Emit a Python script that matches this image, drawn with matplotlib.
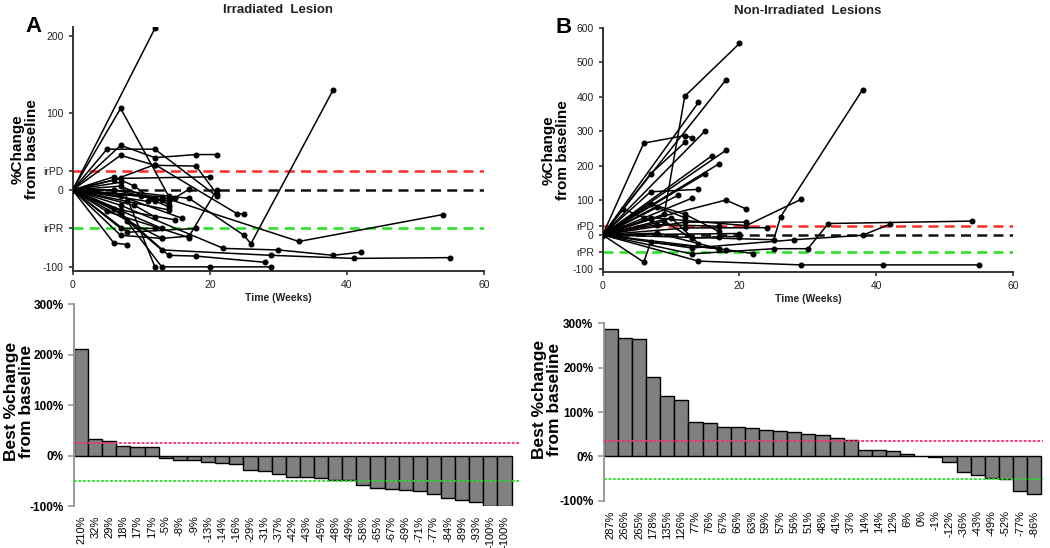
import numpy as np
import matplotlib.pyplot as plt

plt.rcParams['font.family'] = ['Liberation Sans', 'DejaVu Sans']

# spaghetti data: weeks and % change per patient
irr_weeks = [
    [0, 12], [0, 7, 14], [0, 5, 12, 21], [0, 7, 12, 18, 21], [0, 7, 12, 18, 21],
    [0, 7, 20], [0, 6, 17, 25, 26, 38], [0, 6, 12, 24, 25], [0, 13, 33, 54],
    [0, 7, 22, 30, 38, 42], [0, 7, 14, 18, 28], [0, 6, 13, 29, 41, 55], [0, 7, 12],
    [0, 7, 13, 20, 29], [0, 6, 8], [0, 7, 13], [0, 7, 12], [0, 5, 17], [0, 7, 15],
    [0, 8, 14], [0, 11, 15], [0, 6, 14, 17], [0, 8, 13, 17, 21], [0, 6, 9, 12],
    [0, 7, 14], [0, 10, 13], [0, 7, 16], [0, 12, 14], [0, 9, 12], [0, 13], [0, 8, 18],
]
irr_change = [
    [0, 210], [0, 106, -8], [0, 53, 53, -8], [0, 58, 42, 46, 46], [0, 45, 32, 31, -5],
    [0, 15, 17], [0, 0, -11, -59, -70, 130], [0, 13, 33, -31, -31], [0, -9, -67, -32],
    [0, -20, -76, -78, -85, -81], [0, -30, -85, -86, -94], [0, -25, -78, -85, -89, -88],
    [0, 10, -100], [0, -30, -100, -100, -100], [0, -69, -71], [0, -59, -63], [0, -50, -50],
    [0, -28, -62], [0, -26, -39], [0, -15, -26], [0, -15, -10], [0, 0, -15, 1],
    [0, -40, -63, -60, 0], [0, 17, 5, -15], [0, 5, -22], [0, -8, -13], [0, -8, -37],
    [0, -10, -19], [0, -20, -35], [0, -50], [0, -55, -50],
]
non_weeks = [
    [0, 9, 12, 20], [0, 18], [0, 14], [0, 15], [0, 6, 12, 13], [0, 7, 12], [0, 18],
    [0, 16], [0, 17], [0, 15], [0, 7, 14], [0, 13], [0, 11], [0, 7, 18, 21],
    [0, 7, 21, 29], [0, 25, 26, 38], [0, 13, 25, 30, 33, 54], [0, 13, 28, 38, 42],
    [0, 14, 29, 41, 55], [0, 6, 7, 17], [0, 12, 24], [0, 12, 21], [0, 20], [0, 18, 22],
    [0, 8, 17], [0, 8, 17], [0, 3, 6], [0, 7, 12, 17], [0, 9, 13, 17, 20], [0, 8, 12],
    [0, 10, 14],
]
non_change = [
    [0, 60, 402, 555], [0, 449], [0, 384], [0, 302], [0, 266, 288, 282], [0, 177, 268],
    [0, 245], [0, 230], [0, 206], [0, 177], [0, 125, 132], [0, 106], [0, 115],
    [0, 45, 101, 75], [0, 50, 27, 103], [0, -14, 52, 421], [0, -55, -40, -40, 33, 40],
    [0, -38, -14, -1, 31], [0, -76, -87, -87, -87], [0, -79, -22, -40], [0, 20, 21],
    [0, 37, 37], [0, 4], [0, -43, -54], [0, 5, -40], [0, 30, 25], [0, 75, 50],
    [0, 90, 60, 10], [0, 40, -10, -5, -5], [0, 80, 50], [0, 50, -25],
]

# waterfall data (best % change)
irr_best = [210, 32, 29, 18, 17, 17, -5, -8, -9, -13, -14, -16, -29, -31, -37, -42,
            -43, -45, -48, -49, -58, -65, -67, -69, -71, -77, -84, -89, -93, -100, -100]
non_best = [287, 266, 265, 178, 135, 126, 77, 76, 67, 66, 63, 59, 57, 56, 51, 48,
            41, 37, 14, 14, 12, 6, 0, -1, -12, -36, -43, -49, -52, -77, -86]

irr_ticks = [200, 100, 25, 0, -50, -100]
irr_ticklabels = ['200', '100', 'irPD', '0', 'irPR', '-100']
non_ticks = [600, 500, 400, 300, 200, 100, 25, 0, -50, -100]
non_ticklabels = ['600', '500', '400', '300', '200', '100', 'rPD', '0', 'rPR', '-100']
pd_line = 25
pr_line = -50
irr_bar_pd = 25
non_bar_pd = 35

fig = plt.figure(figsize=(10.5, 5.48), dpi=100)

ax1 = fig.add_axes([0.0692, 0.506, 0.3917, 0.445])
ax2 = fig.add_axes([0.574, 0.504, 0.3908, 0.445])
ax3 = fig.add_axes([0.0705, 0.0766, 0.4248, 0.3686])
ax4 = fig.add_axes([0.575, 0.0863, 0.418, 0.3237])


def spaghetti(ax, weeks, change, ticks, ticklabels, ylim, title, letter, labx):
    ax.axhline(pd_line, color='#ff2a2a', ls=(0, (4, 2.5)), lw=1.8, zorder=1)
    ax.axhline(0, color='#111111', ls=(0, (4, 2.5)), lw=1.8, zorder=1)
    ax.axhline(pr_line, color='#22e022', ls=(0, (4, 2.5)), lw=1.8, zorder=1)
    for w, c in zip(weeks, change):
        ax.plot(w, c, color='black', lw=1.1, marker='o', ms=3.3, zorder=3)
    ax.set_xlim(0, 60)
    ax.set_ylim(*ylim)
    ax.set_xticks([0, 20, 40, 60])
    ax.set_yticks(ticks)
    ax.set_yticklabels(ticklabels)
    ax.tick_params(labelsize=7.5, labelcolor='#222222', width=1.2, length=3, color='#333333')
    for s in ['top', 'right']:
        ax.spines[s].set_visible(False)
    for s in ['left', 'bottom']:
        ax.spines[s].set_linewidth(1.4)
        ax.spines[s].set_color('#333333')
    ax.set_xlabel('Time (Weeks)', fontsize=7.5, fontweight='bold', color='#222222', labelpad=2)
    ax.set_ylabel('%Change\nfrom baseline', fontsize=11, fontweight='bold', linespacing=1.0)
    ax.yaxis.set_label_coords(labx, 0.5)
    ax.set_title(title, fontsize=9.5, fontweight='bold', color='#222222', pad=10)
    ax.text(-0.095, 1.0, letter, transform=ax.transAxes, fontsize=16, fontweight='bold',
            ha='center', va='center')


spaghetti(ax1, irr_weeks, irr_change, irr_ticks, irr_ticklabels, (-105, 212),
          'Irradiated  Lesion', 'A', -0.082)
spaghetti(ax2, non_weeks, non_change, non_ticks, non_ticklabels, (-107, 600),
          'Non-Irradiated  Lesions', 'B', -0.08)


def waterfall(ax, best, pd_val, xright, labx, laby):
    x = np.arange(len(best))
    ax.bar(x, best, width=1.0, color='#808080', edgecolor='black', lw=1.0, zorder=2)
    ax.axhline(pd_val, color='#ff2a6a', ls=(0, (1.5, 1)), lw=1.3, zorder=3)
    ax.axhline(pr_line, color='#22e022', ls=(0, (1.5, 1)), lw=1.3, zorder=3)
    ax.set_xlim(-0.5, xright)
    ax.set_ylim(-100, 300)
    ax.set_yticks([300, 200, 100, 0, -100])
    ax.set_yticklabels(['300%', '200%', '100%', '0%', '-100%'])
    ax.set_xticks(x)
    ax.set_xticklabels([f'{v}%' for v in best], rotation=90, fontsize=8)
    ax.tick_params(axis='x', length=0, pad=7)
    ax.tick_params(axis='y', labelsize=8.5, color='#999999', width=1.2, length=4)
    for lab in ax.get_yticklabels():
        lab.set_fontweight('bold')
    for s in ['top', 'right', 'bottom']:
        ax.spines[s].set_visible(False)
    ax.spines['left'].set_color('#999999')
    ax.spines['left'].set_linewidth(1.4)
    ax.set_ylabel('Best %change\nfrom baseline', fontsize=12.5, fontweight='bold', linespacing=1.0)
    ax.yaxis.set_label_coords(labx, laby)


waterfall(ax3, irr_best, irr_bar_pd, 31.1, -0.09, 0.52)
waterfall(ax4, non_best, non_bar_pd, 30.6, -0.096, 0.57)

fig.savefig('out.png', dpi=100)
